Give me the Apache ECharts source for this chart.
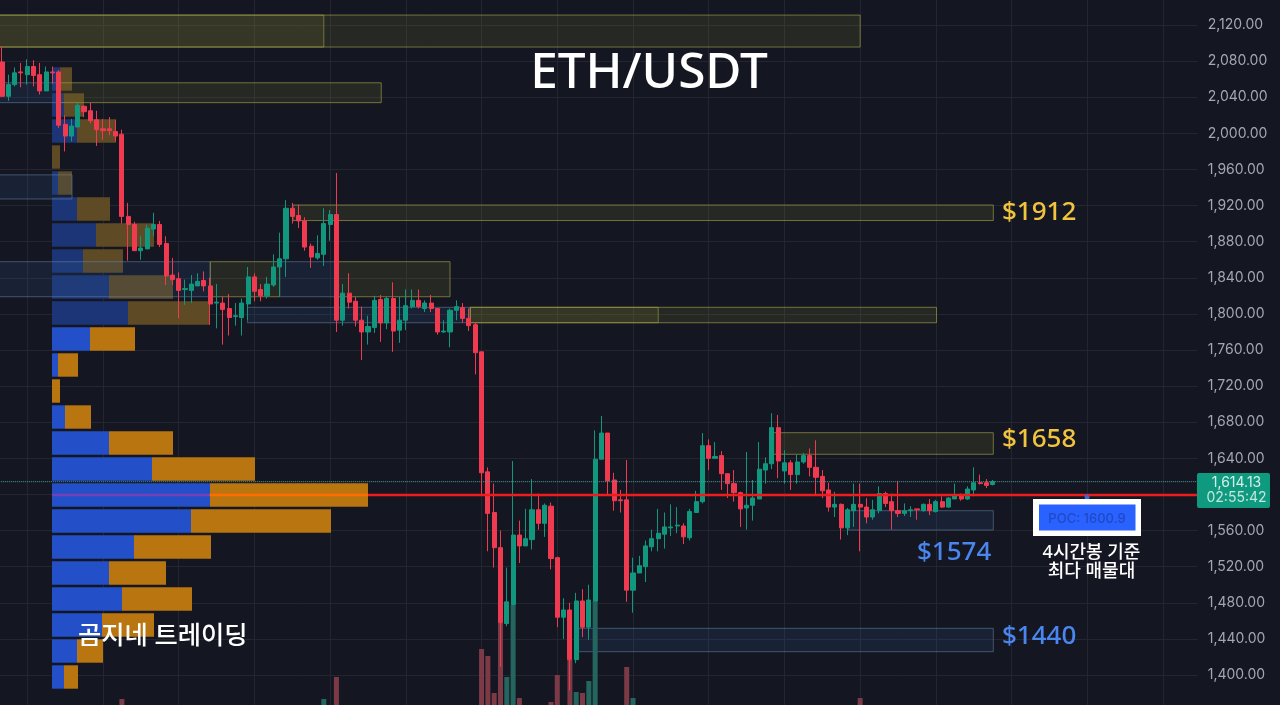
<!DOCTYPE html>
<html>
<head>
<meta charset="utf-8">
<title>ETH/USDT</title>
<script src="https://cdn.jsdelivr.net/npm/echarts@6/dist/echarts.min.js"></script>
<style>
html, body { margin: 0; padding: 0; background: #141722; }
#chart { width: 1280px; height: 705px; }
</style>
</head>
<body>
<div id="chart"></div>
<script>
'use strict';
// 4h candles: [open, close, low, high]
var candles = [
	[2079,2041,2041,2096],[2041,2054,2036,2065],[2054,2067,2052,2073],[2068,2067,2051,2078],[2065,2074,2054,2082],
	[2074,2064,2052,2081],[2065,2047,2043,2078],[2047,2068,2047,2074],[2068,2067,2055,2074],[2068,2009,2006,2070],
	[2010,1997,1980,2020],[1997,2008,1991,2016],[2007,2031,2007,2034],[2030,2024,2018,2031],[2025,2014,2011,2034],
	[2015,2004,1986,2025],[2005,2003,1993,2016],[2005,2003,1998,2018],[2002,1997,1991,2015],[1999,1908,1900,2004],
	[1908,1899,1859,1923],[1899,1870,1870,1902],[1870,1873,1860,1886],[1872,1895,1872,1899],[1894,1899,1886,1912],
	[1899,1877,1874,1903],[1878,1842,1832,1886],[1843,1838,1832,1862],[1839,1826,1795,1846],[1827,1828,1810,1838],
	[1826,1833,1812,1843],[1831,1836,1831,1845],[1837,1831,1825,1847],[1831,1811,1788,1840],[1812,1813,1784,1833],
	[1812,1805,1766,1819],[1806,1796,1776,1822],[1797,1798,1787,1812],[1796,1812,1776,1817],[1811,1841,1793,1852],
	[1841,1825,1814,1845],[1827,1820,1814,1833],[1820,1833,1817,1841],[1832,1852,1830,1866],[1852,1861,1819,1890],
	[1861,1917,1841,1926],[1917,1908,1900,1923],[1909,1903,1895,1921],[1903,1874,1870,1907],[1875,1863,1851,1878],
	[1862,1867,1860,1887],[1866,1900,1853,1917],[1899,1910,1881,1915],[1910,1793,1780,1956],[1793,1823,1787,1833],
	[1823,1813,1806,1845],[1814,1793,1786,1819],[1793,1780,1749,1808],[1780,1786,1766,1798],[1785,1815,1779,1820],
	[1816,1790,1769,1821],[1790,1817,1783,1819],[1817,1781,1758,1835],[1782,1793,1768,1819],[1793,1809,1782,1827],
	[1808,1815,1806,1827],[1815,1808,1806,1827],[1806,1812,1802,1815],[1812,1806,1802,1821],[1806,1780,1777,1806],
	[1780,1781,1779,1793],[1780,1804,1763,1806],[1804,1808,1793,1815],[1807,1795,1790,1812],[1795,1787,1781,1806],
	[1788,1757,1733,1791],[1758,1624,1599,1758],[1625,1579,1537,1630],[1580,1541,1519,1612],[1541,1458,1409,1560],
	[1457,1481,1454,1519],[1478,1555,1478,1637],[1555,1543,1524,1571],[1543,1551,1543,1584],[1550,1583,1539,1617],
	[1583,1568,1561,1601],[1568,1588,1553,1590],[1587,1529,1517,1591],[1530,1464,1453,1531],[1464,1472,1440,1485],
	[1472,1417,1383,1480],[1417,1482,1413,1491],[1482,1453,1442,1495],[1453,1483,1439,1500],[1482,1639,1482,1671],
	[1639,1668,1639,1687],[1668,1615,1599,1668],[1616,1593,1582,1624],[1594,1593,1580,1605],[1594,1494,1481,1638],
	[1494,1513,1469,1530],[1513,1521,1513,1532],[1520,1543,1503,1549],[1542,1551,1537,1561],[1551,1557,1537,1584],
	[1556,1564,1540,1580],[1563,1564,1554,1589],[1565,1566,1557,1586],[1565,1553,1545,1568],[1552,1581,1549,1584],
	[1580,1592,1580,1604],[1592,1654,1590,1668],[1654,1640,1627,1661],[1640,1642,1640,1658],[1643,1623,1605,1648],
	[1623,1612,1596,1623],[1612,1602,1592,1627],[1602,1584,1564,1603],[1585,1588,1561,1647],[1588,1596,1571,1616],
	[1595,1628,1595,1658],[1627,1634,1612,1641],[1634,1674,1628,1690],[1674,1637,1618,1688],[1626,1635,1612,1649],
	[1635,1622,1605,1638],[1622,1636,1612,1644],[1636,1643,1634,1646],[1643,1630,1620,1651],[1630,1619,1599,1660],
	[1620,1604,1596,1627],[1605,1586,1581,1613],[1586,1589,1575,1603],[1589,1563,1550,1590],[1563,1583,1555,1585],
	[1582,1589,1564,1612],[1589,1586,1537,1612],[1586,1575,1568,1596],[1575,1583,1572,1594],[1582,1601,1579,1609],
	[1601,1590,1586,1603],[1592,1582,1561,1601],[1582,1579,1575,1615],[1579,1582,1576,1590],[1582,1583,1575,1587],
	[1584,1583,1572,1584],[1582,1589,1581,1590],[1589,1582,1577,1595],[1581,1592,1580,1594],[1592,1586,1585,1598],
	[1586,1596,1585,1597],[1595,1599,1595,1612],[1600,1595,1593,1601],[1595,1606,1594,1609],[1605,1613,1598,1630],
	[1613,1612,1611,1622],[1613,1610,1607,1617],[1611,1614.13,1610,1616]
];
// only the volume bars that rise into the picture: [bar, volume]
var volumes = [[19,6],[51,6],[53,28],[76,56],[77,49],[78,12],[79,82],[80,28],[81,100],[82,7],[87,3],[88,30],
	[90,45],[91,13],[92,12],[93,24],[94,104],[99,38],[100,7],[136,7]];
// volume profile, top row first
var profileBuy = [8,12,25,0,6,25,44,31,57,76,38,6,0,13,57,100,158,139,82,57,70,50,25,12];
var profileSell = [12,20,39,8,14,33,58,40,64,82,45,20,8,26,64,103,158,140,77,57,70,52,26,14];
// price zones: [from bar, to bar, upper price, lower price]
var yellowZones = [
	[-0.5,51,2131,2095.6],[-0.5,136,2131,2095.6],[9.2,60.1,2056,2034],[46.1,157.1,1920.6,1903.4],
	[33,44,1857.8,1819],[53,71,1857.8,1819],[74.2,104,1807.3,1790.2],[74.2,148.1,1807.3,1790.2],
	[122.2,157.1,1668.4,1644.5]
];
var blueZones = [
	[-0.5,8.9,2056,2034],[-0.5,11.1,1954,1927.3],[-0.5,33,1857.8,1819],[44,53,1857.8,1819],
	[38.9,74.2,1807.3,1790.2],[134.1,157.1,1582,1560.6],[90.9,157.1,1451.7,1425.8]
];
var pocPrice = 1599.4;
var lastPrice = 1614.13;
var barCount = 190;
var dimRows = 10;

var barLabels = [];
for (var i = 0; i < barCount; i++) barLabels.push(String(i));
var rowLabels = profileBuy.map(function(v, idx) { return String(idx); });

var upColor = '#12977f', downColor = '#ef3a50';
var volumeData = volumes.map(function(item) {
	var c = candles[item[0]];
	return {
		value: [String(item[0]), item[1]],
		itemStyle: { color: c[1] >= c[0] ? '#24665f' : '#7b3a46' }
	};
});

function zoneSeries(data, fill, stroke) {
	return {
		type: 'custom',
		xAxisIndex: 1,
		yAxisIndex: 0,
		z: 3,
		silent: true,
		data: data,
		encode: { x: [0, 1], y: [2, 3] },
		renderItem: function(params, api) {
			var a = api.coord([api.value(0), api.value(2)]);
			var b = api.coord([api.value(1), api.value(3)]);
			return {
				type: 'rect',
				shape: { x: a[0], y: a[1], width: b[0] - a[0], height: b[1] - a[1] },
				style: { fill: fill, stroke: stroke, lineWidth: 1 }
			};
		}
	};
}
function levelLine(from, to, price, color, width, dash) {
	return {
		type: 'line',
		xAxisIndex: 1,
		yAxisIndex: 0,
		z: 6,
		silent: true,
		symbol: 'none',
		data: [[from, price], [to, price]],
		lineStyle: { color: color, width: width, type: dash || 'solid' }
	};
}
function label(text, x, y, size, color, align, weight) {
	return {
		type: 'text',
		x: x,
		y: y,
		z: 20,
		style: {
			text: text,
			fill: color,
			font: (weight || 500) + ' ' + size + 'px "Noto Sans", "Noto Sans CJK KR", sans-serif',
			align: align || 'left',
			verticalAlign: 'middle'
		}
	};
}

var option = {
	backgroundColor: '#141722',
	animation: false,
	grid: [
		{ left: -1.15, width: 1198.9, top: -11.1, height: 722.2, outerBoundsMode: 'none' },
		{ left: 52, width: 1146, top: 66, height: 624, outerBoundsMode: 'none' },
		{ left: -1.15, width: 1198.9, top: 505, height: 200, outerBoundsMode: 'none' }
	],
	xAxis: [
		{
			type: 'category', gridIndex: 0, data: barLabels,
			axisLine: { show: false }, axisTick: { show: false }, axisLabel: { show: false },
			splitLine: {
				show: true, alignWithLabel: true,
				interval: function(idx) { return idx % 12 === 4; },
				lineStyle: { color: '#232631', width: 1 }
			}
		},
		{ type: 'value', gridIndex: 0, min: -0.5, max: 189.5, show: false, splitLine: { show: false } },
		{ type: 'value', gridIndex: 1, min: 0, max: 1146, show: false, splitLine: { show: false } },
		{ type: 'category', gridIndex: 2, data: barLabels, show: false }
	],
	yAxis: [
		{
			type: 'value', gridIndex: 0, position: 'right', min: 1360, max: 2160, interval: 40,
			axisLine: { show: false }, axisTick: { show: false },
			axisLabel: {
				margin: 10, fontSize: 14, color: '#a4a7b0', fontFamily: 'Inter', padding: [4, 0, 0, 0],
				showMinLabel: false, showMaxLabel: false,
				formatter: function(v) { return v.toLocaleString('en-US', { minimumFractionDigits: 2 }); }
			},
			splitLine: { show: true, lineStyle: { color: '#232631', width: 1 } }
		},
		{ type: 'category', gridIndex: 1, inverse: true, data: rowLabels, show: false },
		{ type: 'value', gridIndex: 2, min: 0, max: 200, show: false, splitLine: { show: false } }
	],
	series: [
		{
			type: 'bar', name: 'buy', xAxisIndex: 2, yAxisIndex: 1, stack: 'profile', z: 2, silent: true,
			barWidth: 23.4, data: profileBuy,
			itemStyle: { color: function(p) { return p.dataIndex < dimRows ? '#1c3576' : '#2350c8'; } }
		},
		{
			type: 'bar', name: 'sell', xAxisIndex: 2, yAxisIndex: 1, stack: 'profile', z: 2, silent: true,
			barWidth: 23.4, data: profileSell,
			itemStyle: { color: function(p) { return p.dataIndex < dimRows ? '#5e4a24' : '#b9750f'; } }
		},
		zoneSeries(blueZones, 'rgba(50,90,140,0.18)', 'rgba(110,140,175,0.5)'),
		zoneSeries(yellowZones, 'rgba(120,120,50,0.18)', 'rgba(160,160,70,0.65)'),
		{
			type: 'bar', name: 'volume', xAxisIndex: 3, yAxisIndex: 2, z: 4, silent: true,
			barWidth: 5, data: volumeData
		},
		{
			type: 'candlestick', name: 'ETH/USDT', xAxisIndex: 0, yAxisIndex: 0, z: 5, silent: true,
			barWidth: 4.6, data: candles,
			itemStyle: { color: upColor, color0: downColor, borderColor: upColor, borderColor0: downColor, borderWidth: 1 }
		},
		levelLine(-0.5, 189.5, lastPrice, '#4f9d98', 1, 'dotted'),
		levelLine(7.94, 32.9, pocPrice, '#7440b5', 2.5),
		levelLine(32.9, 58, pocPrice, '#ff6d00', 2.5),
		levelLine(58, 189.5, pocPrice, '#ee1c1c', 2.5)
	],
	graphic: [
		label('ETH/USDT', 649, 74, 49.5, '#ffffff', 'center'),
		label('$1912', 1002, 212.5, 26, '#f2c33d'),
		label('$1658', 1002, 439.5, 26, '#f2c33d'),
		label('$1574', 917, 552.5, 26, '#4a86ee'),
		label('$1440', 1002, 636.5, 26, '#4a86ee'),
		label('곰지네 트레이딩', 78, 637, 25.3, '#ffffff'),
		label('4시간봉 기준', 1091.5, 552.5, 18, '#ffffff', 'center'),
		label('최다 매물대', 1091.5, 572, 18, '#ffffff', 'center'),
		{ type: 'rect', z: 19, shape: { x: 1197, y: 473, width: 73, height: 35, r: 2 }, style: { fill: '#0f9a7f' } },
		{
			type: 'text', x: 1236.5, y: 483, z: 20,
			style: { text: '1,614.13', fill: '#d5efe9', font: '14px Inter', align: 'center', verticalAlign: 'middle' }
		},
		{
			type: 'text', x: 1236.5, y: 498, z: 20,
			style: { text: '02:55:42', fill: '#c3e6df', font: '14px Inter', align: 'center', verticalAlign: 'middle' }
		},
		{ type: 'rect', z: 19, shape: { x: 1033, y: 499, width: 108, height: 37 }, style: { fill: '#ffffff' } },
		{ type: 'rect', z: 19, shape: { x: 1039, y: 504.5, width: 96.5, height: 26 }, style: { fill: '#2962ff' } },
		{
			type: 'text', x: 1087, y: 519, z: 20,
			style: { text: 'POC: 1600.9', fill: '#2149c4', font: '500 13px Inter', align: 'center', verticalAlign: 'middle' }
		},
		{ type: 'circle', z: 18, shape: { cx: 1087, cy: 497, r: 2.5 }, style: { fill: '#3b66d8' } }
	]
};

var chart = echarts.init(document.getElementById('chart'));
chart.setOption(option);
window.addEventListener('resize', function() {
	chart && chart.resize();
});
</script>
</body>
</html>
